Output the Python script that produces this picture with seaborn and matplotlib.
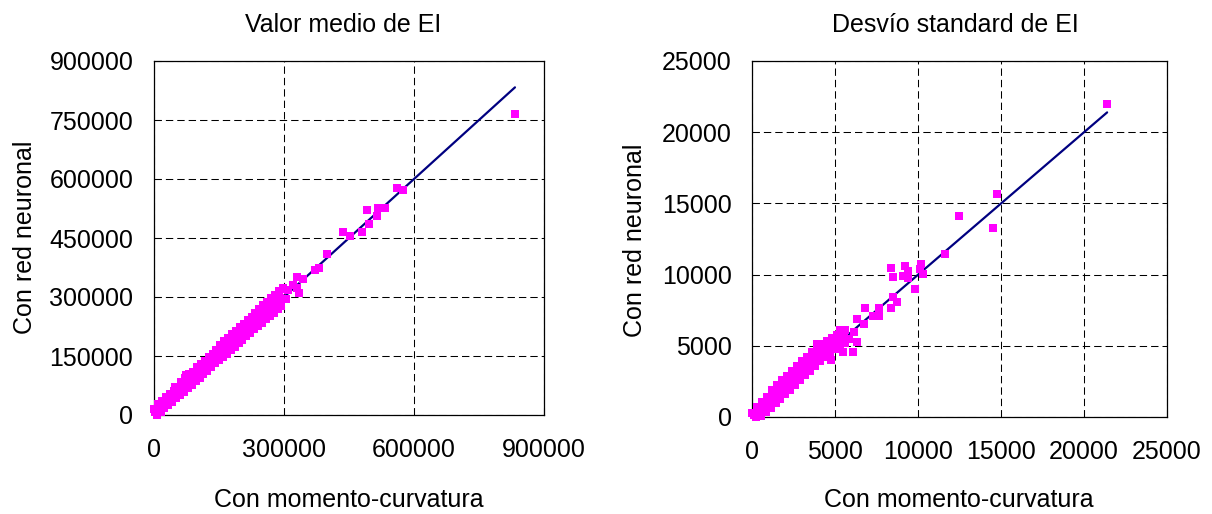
import matplotlib
matplotlib.use("Agg")
import matplotlib.pyplot as plt
import pandas as pd
import seaborn as sns

# --- Valor medio de EI (values in thousands) ---
medio_mc_miles = [
    0, 3, 6, 9, 12, 15, 18, 21, 24, 27, 30, 33, 36, 39, 42, 45, 48, 51, 54, 57,
    60, 63, 66, 69, 72, 75, 78, 81, 84, 87, 90, 93, 96, 99, 102, 105, 108, 111,
    114, 117, 120, 123, 126, 129, 132, 135, 138, 141, 144, 147, 150, 153, 156,
    159, 162, 165, 168, 171, 174, 177, 180, 183, 186, 189, 192, 195, 198, 201,
    204, 207, 210, 213, 216, 219, 222, 225, 228, 231, 234, 237, 240, 243, 246,
    249, 252, 255, 258, 261, 264, 267, 270, 273, 276, 279, 282, 285, 288, 291,
    294, 297,
    833, 561, 575, 491, 516, 533, 514, 497, 436, 453, 481, 400, 371, 381, 330,
    344, 335, 321, 298, 310, 283, 290, 272, 305, 329, 73, 48,
]
medio_rn_miles = [
    16, 7, 0, 27, 16, 8, 36, 25, 17, 45, 34, 26, 54, 43, 34, 62, 53, 43, 72, 61,
    51, 84, 71, 59, 93, 80, 68, 103, 89, 76, 110, 98, 87, 121, 107, 95, 130, 116,
    103, 138, 125, 113, 147, 134, 122, 156, 143, 131, 166, 152, 139, 178, 162,
    147, 187, 171, 156, 196, 180, 165, 205, 189, 173, 214, 198, 182, 223, 207,
    191, 232, 216, 200, 241, 225, 209, 250, 234, 218, 259, 243, 226, 270, 252,
    234, 279, 261, 243, 288, 270, 252, 297, 279, 260, 306, 288, 269, 315, 297,
    278, 323,
    766, 577, 572, 521, 526, 526, 506, 486, 465, 454, 465, 410, 369, 374, 352,
    345, 311, 331, 320, 318, 301, 276, 280, 296, 322, 101, 72,
]

# --- Desvío standard de EI ---
desvio_mc = [
    0, 100, 200, 300, 400, 500, 600, 700, 800, 900, 1000, 1100, 1200, 1300,
    1400, 1500, 1600, 1700, 1800, 1900, 2000, 2100, 2200, 2300, 2400, 2500,
    2600, 2700, 2800, 2900, 3000, 3100, 3200, 3300, 3400, 3500, 3600, 3700,
    3800, 3900, 4000, 4100, 4200, 4300, 4400, 4500, 4600, 4700, 4800, 4900,
    5000, 5100, 5200, 5300, 5400, 5500, 5600,
    21390, 14750, 12460, 14530, 11620, 8360, 9190, 10190, 8480, 9105, 9370,
    9410, 10290, 10130, 9830, 8460, 8700, 8360, 7660, 6810, 7640, 7300, 6290,
    6730, 6150, 5290, 5590, 3880, 4440, 5490, 6090, 4760, 5800, 6300,
]
desvio_rn = [
    250, 110, 0, 710, 440, 100, 1050, 770, 350, 1390, 1100, 630, 1900, 1430,
    950, 2250, 1760, 1270, 2580, 2090, 1600, 2910, 2420, 1930, 3240, 2750,
    2250, 3570, 3080, 2590, 3900, 3410, 2920, 4230, 3740, 3250, 4560, 4070,
    3580, 4890, 4400, 3910, 5150, 4730, 4230, 5350, 5060, 4550, 5550, 5300,
    4800, 5750, 5500, 5000, 6000, 5700, 5200,
    22000, 15680, 14140, 13270, 11470, 10490, 10630, 10745, 9810, 9925, 10230,
    9760, 10040, 10390, 8990, 8400, 8080, 7655, 7655, 7655, 7070, 7070, 6880,
    6555, 5990, 6130, 6130, 5150, 5150, 4565, 4565, 3980, 5500, 5300,
]

medio_xticks = [0, 300000, 600000, 900000]
medio_yticks = [0, 150000, 300000, 450000, 600000, 750000, 900000]
desvio_ticks = [0, 5000, 10000, 15000, 20000, 25000]

titles = ["Valor medio de EI", "Desvío standard de EI"]
xlabel = "Con momento-curvatura"
ylabel = "Con red neuronal"

sns.set_theme(style="white")
plt.rcParams["font.family"] = ["Liberation Sans", "DejaVu Sans"]
plt.rcParams["lines.scale_dashes"] = False
plt.rcParams["text.color"] = "black"

W, H = 1212, 514
fig = plt.figure(figsize=(W / 100, H / 100), dpi=100)
fig.patch.set_facecolor("white")

ax_medio = fig.add_axes([154 / W, (H - 415) / H, 390 / W, 354 / H])
ax_desvio = fig.add_axes([752.3 / W, (H - 417) / H, 414.7 / W, 356 / H])


def draw_panel(ax, xs, ys, xticks, yticks):
    df = pd.DataFrame({"mc": xs, "rn": ys})
    top = max(xs)
    ref = pd.DataFrame({"mc": [0, top], "rn": [0, top]})
    sns.lineplot(data=ref, x="mc", y="rn", ax=ax, color="#000080",
                 linewidth=1.6, zorder=2)
    sns.scatterplot(data=df, x="mc", y="rn", ax=ax, marker="s", s=40,
                    color="#FF00FF", linewidth=0, zorder=3, clip_on=False)
    ax.set_xlim(xticks[0], xticks[-1])
    ax.set_ylim(yticks[0], yticks[-1])
    ax.set_xticks(xticks)
    ax.set_yticks(yticks)
    ax.set_xticklabels([str(t) for t in xticks])
    ax.set_yticklabels([str(t) for t in yticks])
    ax.set_axisbelow(True)
    ax.grid(True, color="black", linestyle=(0, (5.3, 2.9)), linewidth=0.75)
    ax.tick_params(axis="both", direction="in", length=5, width=0.75,
                   color="black", labelsize=18, labelcolor="black",
                   bottom=True, left=True)
    ax.tick_params(axis="x", pad=16.5)
    ax.tick_params(axis="y", pad=14.9)
    for sp in ax.spines.values():
        sp.set_visible(True)
        sp.set_color("black")
        sp.set_linewidth(0.9)
    ax.set_xlabel("")
    ax.set_ylabel("")
    ax.set_facecolor("white")


draw_panel(ax_medio, [v * 1000 for v in medio_mc_miles],
           [v * 1000 for v in medio_rn_miles], medio_xticks, medio_yticks)
draw_panel(ax_desvio, desvio_mc, desvio_rn, desvio_ticks, desvio_ticks)

fs = 18
txt = dict(fontsize=fs, color="black")
fig.text(342.7 / W, 1 - 31.7 / H, titles[0], ha="center", va="baseline", **txt)
fig.text(955 / W, 1 - 31.7 / H, titles[1], ha="center", va="baseline", **txt)
fig.text(349 / W, 1 - 507 / H, xlabel, ha="center", va="baseline", **txt)
fig.text(959 / W, 1 - 507 / H, xlabel, ha="center", va="baseline", **txt)
fig.text(25 / W, 1 - 237 / H, ylabel, rotation=90, ha="center", va="center", **txt)
fig.text(635.5 / W, 1 - 240 / H, ylabel, rotation=90, ha="center", va="center", **txt)

fig.savefig("out.png", dpi=100, facecolor="white")
